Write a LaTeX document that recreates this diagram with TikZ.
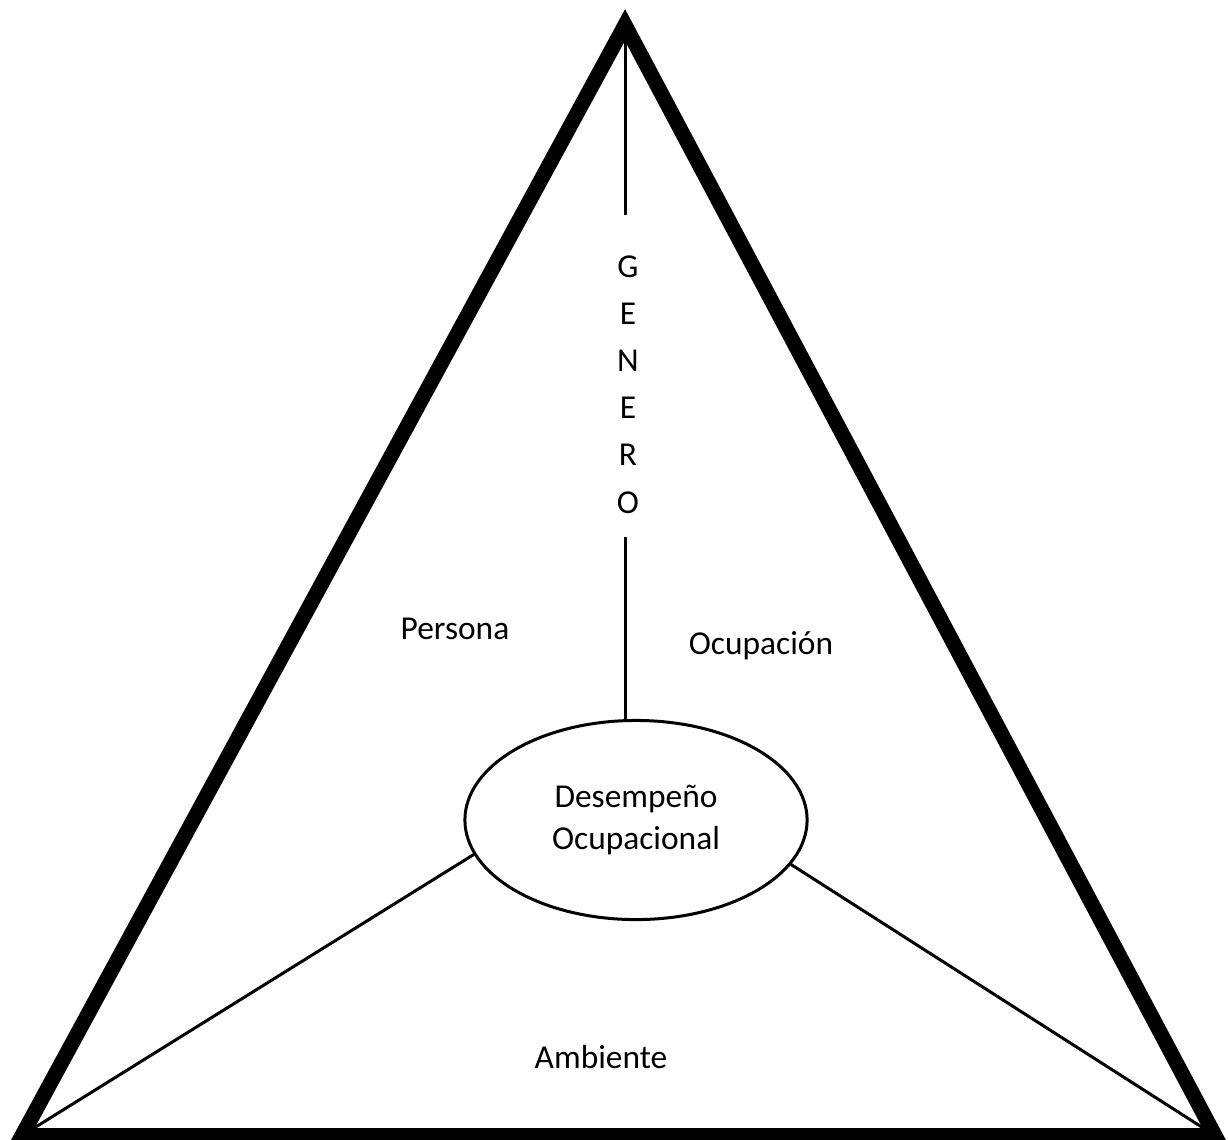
\documentclass[tikz,border=0pt]{standalone}
\usepackage{fontspec}
\setmainfont{Carlito}
\usetikzlibrary{shapes.geometric}
\tikzset{
  frame/.style={line width=0.15cm, line join=miter},
  thin/.style={line width=0.03cm},
  lbl/.style={font=\fontsize{9.5pt}{11.7pt}\selectfont, inner sep=0pt, anchor=base},
  centre/.style={ellipse, draw, line width=0.03cm, minimum width=3.42cm, minimum height=1.99cm, inner sep=0pt, align=center, font=\fontsize{9.5pt}{11.8pt}\selectfont},
  vword/.style={font=\fontsize{9.5pt}{13.4pt}\selectfont, inner sep=0pt, align=center}
}
\begin{document}
\begin{tikzpicture}[x=0.01cm, y=-0.01cm]
\useasboundingbox (0,0) rectangle (1228,1139);
\coordinate (apex) at (625,25);
\coordinate (bl) at (22,1135.5);
\coordinate (br) at (1215,1135.5);
\draw[frame] (apex) -- (bl) -- (br) -- cycle;
\node[centre] (ell) at (636,820) {Desempeño\\Ocupacional};
\coordinate (g1) at (625,215);
\coordinate (g2) at (625,537);
\node[vword, anchor=north] (genero) at (628,255) {G\\E\\N\\E\\R\\O};
\draw[thin] (apex) -- (g1);
\draw[thin] (g2) -- (g2 |- ell.north);
\draw[thin] (ell.192.8) -- (bl);
\draw[thin] (ell.344) -- (br);
\node[lbl] (persona) at (455,639) {Persona};
\node[lbl] (ocup) at (761,654) {Ocupación};
\node[lbl] (amb) at (601,1068) {Ambiente};
\end{tikzpicture}
\end{document}
